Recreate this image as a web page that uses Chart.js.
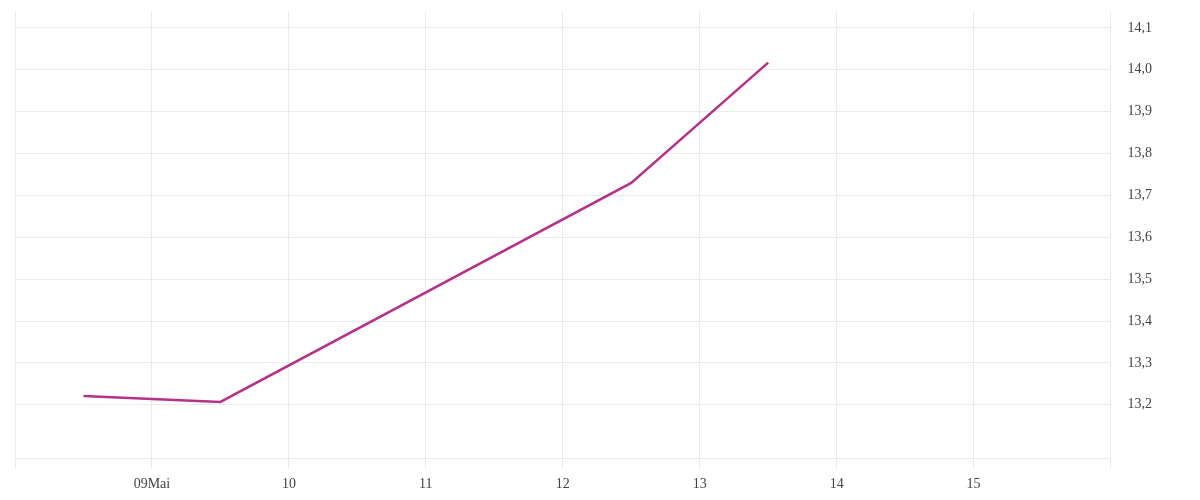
<!DOCTYPE html>
<html>
<head>
<meta charset="utf-8">
<script src="https://cdn.jsdelivr.net/npm/chart.js@4"></script>
<style>
  html, body { margin:0; padding:0; background:#fff; }
  #wrap { width:1200px; height:500px; }
</style>
</head>
<body>
<div id="wrap"><canvas id="graf"></canvas></div>
<script>
// Tage (Mai), Werte
const tage   = [8.5, 9.5, 12.5, 13.5];
const werte  = [13.221, 13.207, 13.730, 14.017];

// Achsen
const xTicks  = [8, 9, 10, 11, 12, 13, 14, 15, 16];
const xLabels = ['', '09Mai', '10', '11', '12', '13', '14', '15', ''];
const yTicks  = [13.2, 13.3, 13.4, 13.5, 13.6, 13.7, 13.8, 13.9, 14.0, 14.1];

const gitter = '#ebebeb';
const schrift = { family:'"Liberation Serif", serif', size:14 };

new Chart(document.getElementById('graf'), {
  type:'line',
  data:{
    datasets:[{
      data: tage.map((t,i)=>({ x:t, y:werte[i] })),
      borderColor:'#b5318a',
      borderWidth:2.5,
      pointRadius:0,
      tension:0,
      fill:false
    }]
  },
  options:{
    responsive:true,
    maintainAspectRatio:false,
    animation:false,
    layout:{ padding:{ left:15, top:12, right:48, bottom:0 } },
    plugins:{ legend:{ display:false }, tooltip:{ enabled:false } },
    scales:{
      x:{
        type:'linear',
        min:8, max:16,
        afterBuildTicks: ax => { ax.ticks = xTicks.map(v=>({ value:v })); },
        afterFit: ax => { ax.height = 42; },
        grid:{ color:gitter, tickLength:10 },
        border:{ color:gitter },
        ticks:{
          color:'#444', font:schrift, padding:8, maxRotation:0, autoSkip:false,
          callback: v => xLabels[xTicks.indexOf(v)] ?? ''
        }
      },
      y:{
        position:'right',
        min:13.073, max:14.138,
        afterBuildTicks: ax => { ax.ticks = yTicks.map(v=>({ value:v })); },
        grid:{ color:gitter, drawTicks:true, tickLength:17, tickColor:'rgba(0,0,0,0)' },
        border:{ color:gitter },
        ticks:{
          color:'#444', font:schrift, padding:0,
          callback: v => v.toFixed(1).replace('.', ',')
        }
      }
    }
  }
});
</script>
</body>
</html>
